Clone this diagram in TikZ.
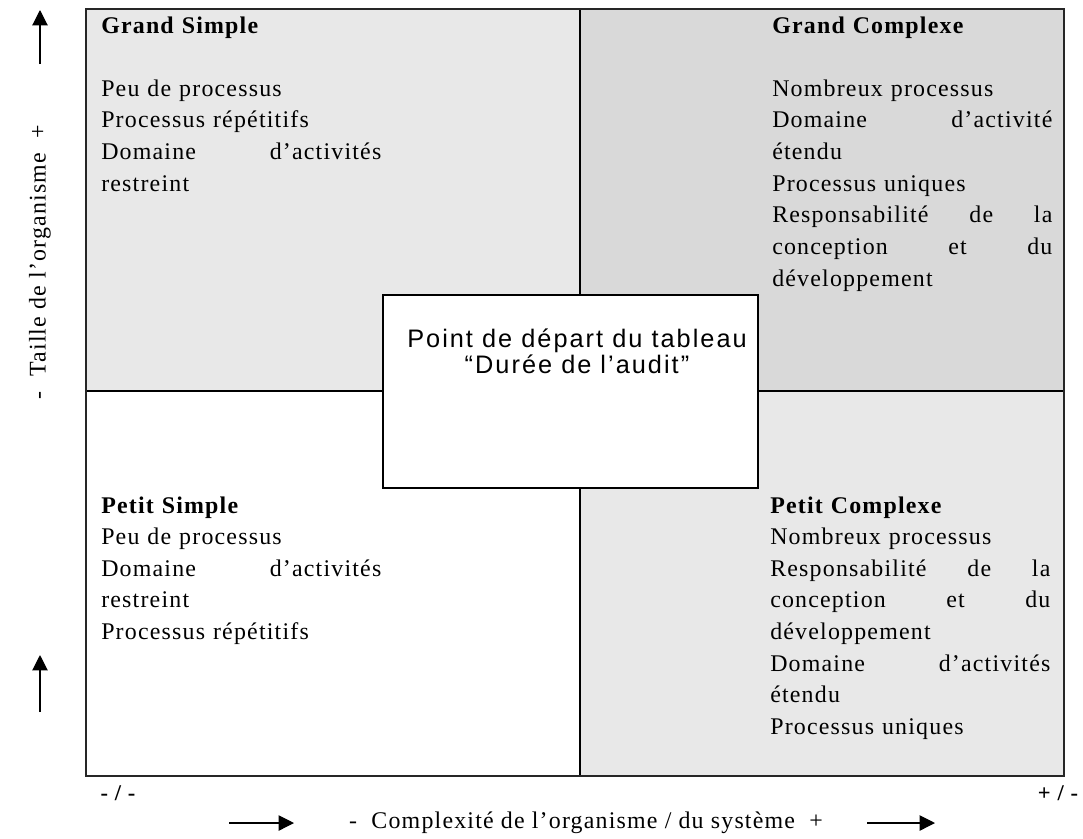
\documentclass[tikz,border=0pt]{standalone}
\usepackage{fontspec}
\setmainfont{Liberation Serif}[LetterSpace=5]
\newfontfamily\boxfont{Liberation Sans}[LetterSpace=8]
\usetikzlibrary{arrows.meta}

\definecolor{clair}{HTML}{E8E8E8}
\definecolor{fonce}{HTML}{D9D9D9}

\tikzset{
  quad/.style={anchor=base west, inner sep=0pt, text width=7cm, align=left,
    font=\fontsize{17}{22.5}\selectfont},
  axe/.style={inner sep=0pt, font=\fontsize{17}{20}\selectfont},
  borne/.style={inner sep=0pt, font=\bfseries\fontsize{16}{18}\selectfont},
  fleche/.style={->, >={Triangle[length=11pt,width=11pt]}, line width=0.8pt}
}

\begin{document}
\begin{tikzpicture}[x=0.025cm, y=-0.025cm]
\useasboundingbox (0,0) rectangle (1083,838);
% les quatre cases
\fill[clair] (86,9) rectangle (580,391);
\fill[fonce] (580,9) rectangle (1064,391);
\fill[clair] (580,391) rectangle (1064,776);
\draw[line width=0.8pt] (86,391) -- (1064,391);
\draw[line width=0.8pt] (580,9) -- (580,776);
\draw[line width=1.2pt, black!85] (86,9) rectangle (1064,776);

\node[quad] (gs) at (101,33) {\textbf{Grand Simple}\\[22.5pt]
  Peu de processus\\
  Processus répétitifs\\
  Domaine\hfill d’activités\\
  restreint};
\node[quad] (gc) at (772,33) {\textbf{Grand Complexe}\\[22.5pt]
  Nombreux processus\\
  Domaine\hfill d’activité\\
  étendu\\
  Processus uniques\\
  Responsabilité\hfill de\hfill la\\
  conception\hfill et\hfill du\\
  développement};
\node[quad] (ps) at (101,513) {\textbf{Petit Simple}\\
  Peu de processus\\
  Domaine\hfill d’activités\\
  restreint\\
  Processus répétitifs};
\node[quad] (pc) at (770,513) {\textbf{Petit Complexe}\\
  Nombreux processus\\
  Responsabilité\hfill de\hfill la\\
  conception\hfill et\hfill du\\
  développement\\
  Domaine\hfill d’activités\\
  étendu\\
  Processus uniques};

% case centrale
\draw[line width=0.8pt, fill=white] (383,295) rectangle (758,488);
\node[anchor=base, align=center, inner sep=0pt,
  font=\boxfont\fontsize{18}{16}\selectfont] (depart) at (577,373)
  {Point de départ du tableau\\“Durée de l’audit”};

% axes
\node[axe, rotate=90] (taille) at (40,262) {-\ \ Taille de l’organisme\ \ +};
\coordinate (t1) at (40,64);
\coordinate (t2) at (40,10);
\coordinate (t3) at (40,712);
\coordinate (t4) at (40,655);
\draw[fleche] (t1) -- (t2);
\draw[fleche] (t3) -- (t4);

\node[axe] (complexite) at (586,823) {-\ \ Complexité de l’organisme / du système\ \ +};
\coordinate (c1) at (229,823);
\coordinate (c2) at (294,823);
\coordinate (c3) at (867,823);
\coordinate (c4) at (935,823);
\draw[fleche] (c1) -- (c2);
\draw[fleche] (c3) -- (c4);

\node[borne] (moins) at (118,793) {- / -};
\node[borne] (plus) at (1058,793) {+ / -};
\end{tikzpicture}
\end{document}
